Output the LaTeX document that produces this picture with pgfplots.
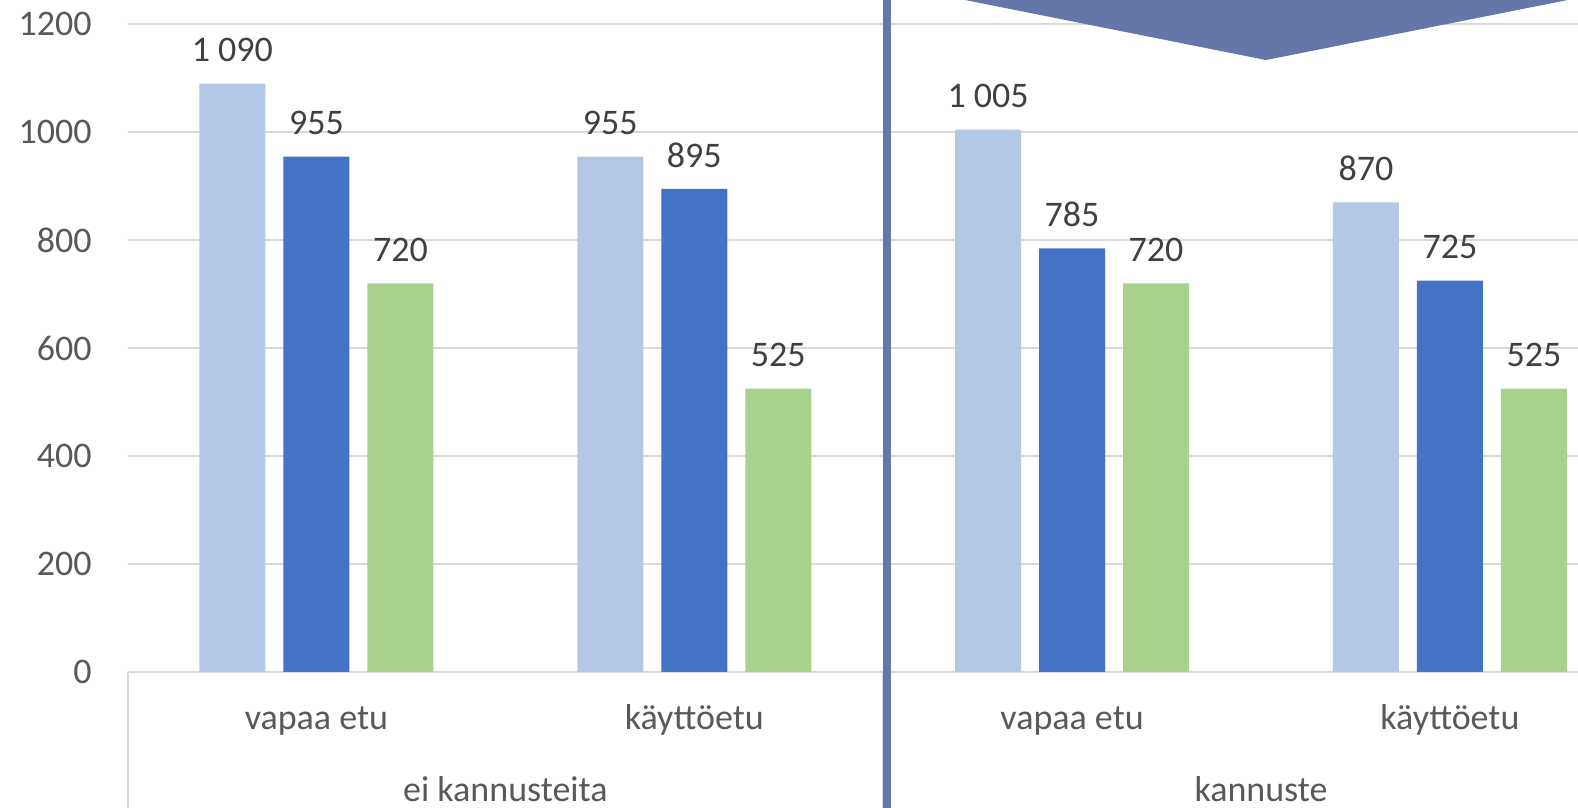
\documentclass[border=0pt]{standalone}
\usepackage{pgfplots}
\pgfplotsset{compat=1.18}
\usepackage{pgfplotstable}
\usepackage{fontspec}
\setmainfont{Carlito}
\definecolor{lb}{HTML}{B4C7E7}
\definecolor{db}{HTML}{4472C4}
\definecolor{gr}{HTML}{A9D18E}
\definecolor{gridgray}{HTML}{D9D9D9}
\definecolor{txt}{HTML}{595959}
\definecolor{lbl}{HTML}{404040}
\definecolor{chev}{HTML}{6477A8}
\pgfplotstableread{
x y
0 1090
1 955
2 1005
3 870
}\seriesA
\pgfplotstableread{
x y
0 955
1 895
2 785
3 725
}\seriesB
\pgfplotstableread{
x y
0 720
1 525
2 720
3 525
}\seriesC
\newcommand{\fs}{\fontsize{10.8pt}{13pt}\selectfont}
\begin{document}
\begin{tikzpicture}[x=1pt,y=1pt]
\useasboundingbox (0,0) rectangle (473.4,242.4);
\clip (0,0) rectangle (473.4,242.4);
\begin{axis}[
  at={(38.25pt,40.8pt)}, anchor=south west,
  scale only axis, width=435.15pt, height=194.31pt,
  xmin=-0.5, xmax=3.339, ymin=0, ymax=1200,
  clip=false,
  axis line style={draw=none},
  ytick={0,200,...,1200},
  ymajorgrids, grid style={gridgray, line width=0.6pt},
  major tick length=0pt,
  tick style={draw=none},
  /pgf/number format/.cd, 1000 sep={}, assume math mode=true, /pgfplots/.cd,
  yticklabel style={font=\fs, text=txt, inner sep=0pt, anchor=east, xshift=-10.6pt},
  xtick={0,1,2,3},
  xticklabels={vapaa etu, käyttöetu, vapaa etu, käyttöetu},
  xticklabel style={font=\fs, text=txt, inner sep=0pt, anchor=base, yshift=-17.4pt},
  ybar=5.4pt, bar width=19.8pt,
  nodes near coords={\pgfmathprintnumber[assume math mode=true, 1000 sep={\ }]{\pgfplotspointmeta}},
  every node near coord/.append style={font=\fs, text=lbl, anchor=base, inner sep=0pt, yshift=6.5pt},
]
\addplot[fill=lb, draw=none] table {\seriesA};
\addplot[fill=db, draw=none] table {\seriesB};
\addplot[fill=gr, draw=none] table {\seriesC};
\fill[chev] (axis cs:1.7166,1245) -- (axis cs:2.513,1133.8) -- (axis cs:3.3118,1245) -- (axis cs:3.3118,1500) -- (axis cs:1.7166,1500) -- cycle;
\draw[gridgray, line width=0.6pt] (axis cs:-0.5,0) -- ++(0pt,-50pt);
\draw[gridgray, line width=0.6pt] (axis cs:1.5,0) -- ++(0pt,-50pt);
\draw[chev, line width=2.4pt] (axis cs:1.5102,-300) -- (axis cs:1.5102,1500);
\node[font=\fs, text=txt, anchor=base, inner sep=0pt, yshift=-39pt] at (axis cs:0.5,0) {ei kannusteita};
\node[font=\fs, text=txt, anchor=base, inner sep=0pt, yshift=-39pt] at (axis cs:2.5,0) {kannuste};
\end{axis}
\end{tikzpicture}
\end{document}
